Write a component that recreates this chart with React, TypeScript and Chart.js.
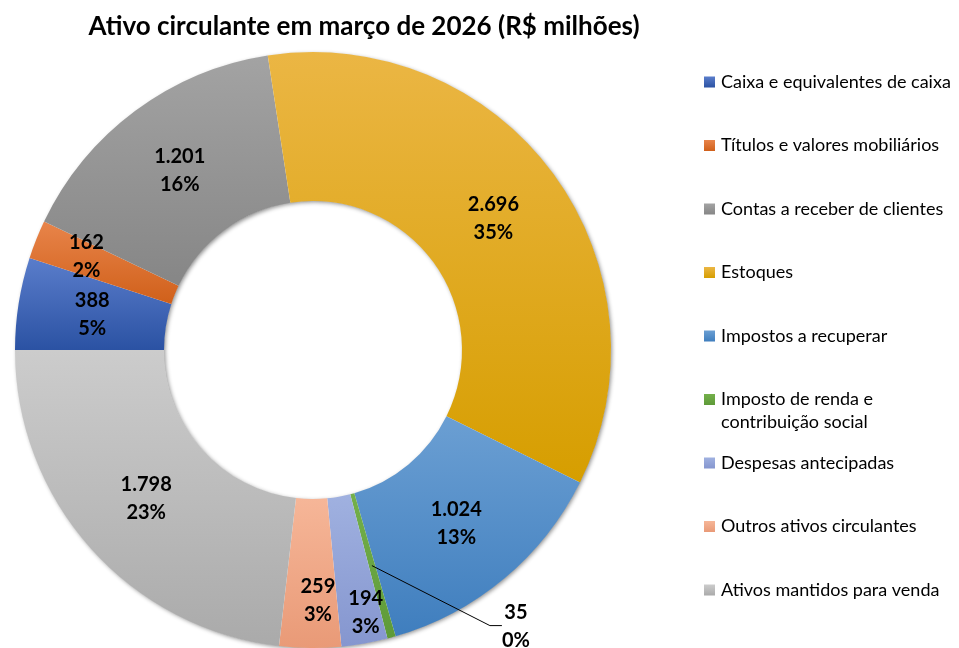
import React, { useEffect, useRef } from "react";
import { Chart, registerables } from "chart.js";

Chart.register(...registerables);

const TITLE = "Ativo circulante em março de 2026 (R$ milhões)";

const categories = [
  "Caixa e equivalentes de caixa",
  "Títulos e valores mobiliários",
  "Contas a receber de clientes",
  "Estoques",
  "Impostos a recuperar",
  "Imposto de renda e contribuição social",
  "Despesas antecipadas",
  "Outros ativos circulantes",
  "Ativos mantidos para venda",
];

const legendLabels = [
  ["Caixa e equivalentes de caixa"],
  ["Títulos e valores mobiliários"],
  ["Contas a receber de clientes"],
  ["Estoques"],
  ["Impostos a recuperar"],
  ["Imposto de renda e", "contribuição social"],
  ["Despesas antecipadas"],
  ["Outros ativos circulantes"],
  ["Ativos mantidos para venda"],
];

const values = [388, 162, 1201, 2696, 1024, 35, 194, 259, 1798];
const percentLabels = [5, 2, 16, 35, 13, 0, 3, 3, 23];

const lightColors = ["#5A7DCB", "#E8844A", "#A3A3A3", "#EBB644", "#6B9FD3", "#74B04B", "#A0B1E0", "#F6B698", "#CCCCCC"];
const darkColors = ["#2B52A3", "#D0601A", "#868686", "#D69E00", "#3F7EBE", "#5E9A38", "#8596CF", "#E99A77", "#AAAAAA"];

// label placement tweaks (px) relative to mid-ring anchor
const labelShift: [number, number][] = [
  [0, 0], [-19, -11], [0, 0], [0, 0], [0, 2], [144, 61], [14, 42], [7, 27], [0, 0],
];
const LEADER_INDEX = 5;

const ROTATION = 270;
const CUTOUT = 0.5;

function fmt(v: number): string {
  return String(v).replace(/\B(?=(\d{3})+(?!\d))/g, ".");
}

function sliceBounds(chart: any, index: number) {
  const a = chart.chartArea;
  const cx = (a.left + a.right) / 2;
  const cy = (a.top + a.bottom) / 2;
  const R = Math.min(a.right - a.left, a.bottom - a.top) / 2;
  const r = R * CUTOUT;
  const total = values.reduce((s, v) => s + v, 0);
  let cum = 0;
  for (let i = 0; i < index; i++) cum += values[i];
  const base = ((ROTATION - 90) * Math.PI) / 180;
  const s = base + (cum / total) * Math.PI * 2;
  const e = base + ((cum + values[index]) / total) * Math.PI * 2;
  let minY = Infinity, maxY = -Infinity;
  const steps = 60;
  for (let k = 0; k <= steps; k++) {
    const t = s + ((e - s) * k) / steps;
    for (const rad of [r, R]) {
      const y = cy + Math.sin(t) * rad;
      if (y < minY) minY = y;
      if (y > maxY) maxY = y;
    }
  }
  return { minY, maxY };
}

const shadowPlugin = {
  id: "ringShadow",
  beforeDatasetsDraw(chart: any) {
    const a = chart.chartArea;
    const ctx = chart.ctx;
    const cx = (a.left + a.right) / 2;
    const cy = (a.top + a.bottom) / 2;
    const R = Math.min(a.right - a.left, a.bottom - a.top) / 2;
    const r = R * CUTOUT;
    ctx.save();
    ctx.shadowColor = "rgba(0,0,0,0.45)";
    ctx.shadowBlur = 4;
    ctx.shadowOffsetX = 1.5;
    ctx.shadowOffsetY = 1.5;
    ctx.beginPath();
    ctx.arc(cx, cy, R - 0.5, 0, Math.PI * 2);
    ctx.arc(cx, cy, r + 0.5, 0, Math.PI * 2, true);
    ctx.fillStyle = "#ffffff";
    ctx.fill("evenodd");
    ctx.restore();
  },
};

const labelPlugin = {
  id: "sliceLabels",
  afterDatasetsDraw(chart: any) {
    const ctx = chart.ctx;
    const meta = chart.getDatasetMeta(0);
    ctx.save();
    ctx.font = "bold 20px Lato";
    ctx.fillStyle = "#000000";
    ctx.textAlign = "center";
    ctx.textBaseline = "middle";
    meta.data.forEach((arc: any, i: number) => {
      const p = arc.getProps(["x", "y", "startAngle", "endAngle", "innerRadius", "outerRadius"], true);
      const mid = (p.startAngle + p.endAngle) / 2;
      const rr = (p.innerRadius + p.outerRadius) / 2;
      const ax = p.x + Math.cos(mid) * rr;
      const ay = p.y + Math.sin(mid) * rr;
      const [dx, dy] = labelShift[i];
      const x = ax + dx;
      const y = ay + dy;
      if (i === LEADER_INDEX) {
        ctx.beginPath();
        ctx.strokeStyle = "#000000";
        ctx.lineWidth = 1;
        ctx.moveTo(ax, ay);
        ctx.lineTo(ax + 118, ay + 60);
        ctx.lineTo(ax + 130, ay + 60);
        ctx.stroke();
      }
      ctx.fillText(fmt(values[i]), x, y - 14);
      ctx.fillText(percentLabels[i] + "%", x, y + 14);
    });
    ctx.restore();
  },
};

const decorPlugin = {
  id: "decor",
  afterDraw(chart: any) {
    const ctx = chart.ctx;
    ctx.save();
    ctx.fillStyle = "#000000";
    ctx.font = "bold 26px Lato";
    ctx.textAlign = "center";
    ctx.textBaseline = "middle";
    ctx.fillText(TITLE, 364, 27);

    ctx.font = "18px Lato";
    ctx.textAlign = "left";
    legendLabels.forEach((lines, i) => {
      const y = 82 + i * 63.5;
      const g = ctx.createLinearGradient(0, y - 5.5, 0, y + 5.5);
      g.addColorStop(0, lightColors[i]);
      g.addColorStop(1, darkColors[i]);
      ctx.fillStyle = g;
      ctx.fillRect(704, y - 5.5, 11, 11);
      ctx.fillStyle = "#000000";
      lines.forEach((ln, k) => ctx.fillText(ln, 721, y + k * 23));
    });
    ctx.restore();
  },
};

export default function App() {
  const ref = useRef<HTMLCanvasElement | null>(null);
  useEffect(() => {
    if (!ref.current) return;
    const chart = new Chart(ref.current, {
      type: "doughnut",
      data: {
        labels: categories,
        datasets: [
          {
            data: values,
            borderWidth: 0,
            backgroundColor: (c: any) => {
              const chart = c.chart;
              const i = c.dataIndex;
              if (!chart.chartArea || i === undefined) return darkColors[i ?? 0];
              const { minY, maxY } = sliceBounds(chart, i);
              const g = chart.ctx.createLinearGradient(0, minY, 0, maxY);
              g.addColorStop(0, lightColors[i]);
              g.addColorStop(1, darkColors[i]);
              return g;
            },
          },
        ],
      },
      options: {
        responsive: false,
        animation: false,
        rotation: ROTATION,
        cutout: CUTOUT * 100 + "%",
        layout: { padding: { left: 15, top: 52, right: 348, bottom: 0 } },
        plugins: {
          legend: { display: false },
          title: { display: false },
          tooltip: { enabled: false },
        },
      },
      plugins: [shadowPlugin, labelPlugin, decorPlugin],
    });
    return () => chart.destroy();
  }, []);
  return (
    <div style={{ position: "fixed", left: 0, top: 0, width: 959, height: 648, background: "#fff" }}>
      <canvas ref={ref} width={959} height={648} />
    </div>
  );
}
